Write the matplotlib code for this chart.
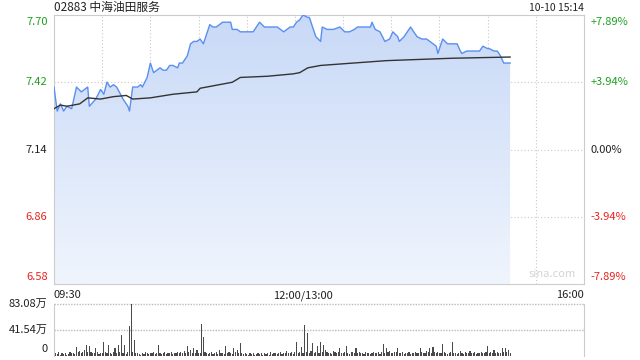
import matplotlib
matplotlib.use("Agg")
import matplotlib.pyplot as plt
import numpy as np
from matplotlib.colors import LinearSegmentedColormap

plt.rcParams['font.family'] = ['Noto Sans CJK SC', 'DejaVu Sans']

# minutes after 09:30 (lunch break removed, 150 = 12:00/13:00)
price_t = [0, 2, 4, 6, 8, 11, 14, 17, 21, 22, 26, 29, 31, 33, 35, 37, 39, 43, 46, 47,
           49, 52, 54, 55, 58, 60, 62, 64, 66, 68, 70, 72, 74, 77, 78, 80, 83, 85, 87, 89,
           91, 93, 95, 97, 99, 101, 105, 108, 110, 111, 114, 116, 118, 120, 124, 126, 128, 131, 133, 136,
           139, 143, 147, 149, 151, 153, 155, 158, 159, 161, 163, 166, 167, 170, 174, 178, 181, 184, 187, 189,
           193, 197, 198, 200, 203, 206, 209, 211, 214, 215, 218, 220, 222, 224, 226, 229, 232, 236, 238, 239,
           240, 242, 245, 248, 251, 253, 254, 257, 259, 263, 265, 267, 270, 271, 274, 276, 278, 280, 281, 282, 284]
price = [7.40, 7.30, 7.33, 7.30, 7.32, 7.31, 7.40, 7.38, 7.40, 7.32, 7.35, 7.39, 7.37, 7.42, 7.40, 7.41, 7.40, 7.35, 7.32, 7.30,
         7.40, 7.40, 7.41, 7.40, 7.44, 7.50, 7.46, 7.47, 7.48, 7.47, 7.47, 7.49, 7.49, 7.48, 7.50, 7.50, 7.53, 7.58, 7.59, 7.59,
         7.60, 7.58, 7.62, 7.66, 7.65, 7.65, 7.67, 7.67, 7.67, 7.64, 7.64, 7.63, 7.63, 7.63, 7.63, 7.65, 7.67, 7.65, 7.65, 7.65,
         7.65, 7.63, 7.65, 7.65, 7.67, 7.68, 7.70, 7.69, 7.69, 7.65, 7.61, 7.59, 7.65, 7.64, 7.64, 7.65, 7.63, 7.63, 7.64, 7.65,
         7.65, 7.65, 7.67, 7.64, 7.63, 7.59, 7.60, 7.63, 7.61, 7.59, 7.61, 7.63, 7.65, 7.63, 7.61, 7.60, 7.60, 7.58, 7.57, 7.54,
         7.56, 7.60, 7.58, 7.58, 7.58, 7.55, 7.54, 7.55, 7.55, 7.55, 7.55, 7.57, 7.56, 7.56, 7.55, 7.55, 7.53, 7.50, 7.50, 7.50, 7.50]

avg_t = [0, 4, 8, 16, 21, 29, 37, 45, 49, 60, 74, 89, 91, 111, 116, 133, 149, 153, 158, 166, 207, 248, 284]
avg_price = [7.31, 7.325, 7.32, 7.33, 7.355, 7.35, 7.36, 7.365, 7.35, 7.355, 7.37, 7.38, 7.395,
             7.42, 7.44, 7.445, 7.455, 7.46, 7.48, 7.49, 7.51, 7.52, 7.525]

# volume per minute, in 万
volume = [21, 4, 3, 6, 2, 5, 3, 4, 2, 3, 6, 4, 5, 3, 14, 6, 8, 5, 7, 10,
          18, 6, 16, 7, 4, 5, 13, 6, 3, 5, 4, 23, 6, 4, 18, 5, 3, 7, 12, 4,
          18, 6, 34, 5, 18, 3, 7, 48, 83, 6, 25, 5, 4, 3, 2, 5, 3, 6, 4, 3,
          5, 4, 6, 3, 4, 18, 5, 3, 4, 6, 3, 5, 4, 6, 3, 4, 5, 7, 4, 6,
          5, 8, 4, 16, 6, 10, 5, 13, 4, 9, 5, 4, 51, 31, 6, 4, 3, 5, 7, 3,
          4, 6, 3, 10, 5, 4, 3, 16, 5, 7, 4, 3, 12, 6, 9, 5, 20, 4, 3, 5,
          3, 2, 4, 3, 5, 2, 3, 4, 3, 5, 2, 4, 3, 4, 2, 6, 3, 5, 4, 3,
          4, 6, 3, 5, 4, 8, 5, 4, 7, 3, 6, 23, 5, 7, 14, 4, 50, 6, 37, 5,
          8, 20, 4, 6, 16, 5, 23, 6, 18, 10, 7, 5, 4, 3, 8, 6, 5, 7, 12, 5,
          4, 6, 16, 5, 3, 7, 6, 4, 13, 5, 6, 4, 5, 3, 6, 4, 5, 3, 4, 6,
          5, 4, 7, 3, 6, 19, 5, 13, 6, 8, 4, 5, 6, 7, 12, 5, 4, 6, 3, 5,
          4, 6, 3, 5, 4, 7, 5, 4, 12, 6, 5, 4, 8, 6, 13, 5, 14, 7, 4, 6,
          5, 4, 19, 6, 5, 3, 4, 6, 23, 5, 4, 3, 5, 8, 4, 3, 6, 5, 4, 8,
          5, 4, 6, 3, 5, 4, 6, 5, 4, 7, 16, 5, 6, 4, 10, 5, 6, 4, 5, 12,
          6, 12, 7, 9, 5]

prev_close = 7.14
price_ticks = [7.70, 7.42, 7.14, 6.86, 6.58]
pct_labels = ['+7.89%', '+3.94%', '0.00%', '-3.94%', '-7.89%']
time_labels = ['09:30', '12:00/13:00', '16:00']
vol_ticks = [0, 41.54, 83.08]
vol_labels = ['0', '41.54万', '83.08万']

green = '#1ea01e'
red = '#e8231f'
border = '#cccccc'
gridc = '#c8c8c8'

fig = plt.figure(figsize=(6.4, 3.6), dpi=100)
ax = fig.add_axes([54/640, 1-284/360, 530/640, 269/360])
axv = fig.add_axes([54/640, 4/360, 530/640, 52/360])

# price chart
ax.set_xlim(0, 330)
ax.set_ylim(6.58, 7.70)
for s in ax.spines.values():
    s.set_color(border)
for t in range(30, 330, 30):
    ax.axvline(t, color=gridc, lw=0.8, ls=(0, (1, 2)), zorder=0)
for p in price_ticks[1:-1]:
    ax.axhline(p, color=gridc, lw=0.8, ls=(0, (1, 2)), zorder=0)

poly = ax.fill_between(price_t, price, 6.58, color='none', lw=0)
cmap = LinearSegmentedColormap.from_list('g', ['#f0f5fd', '#c8d9f7'])
grad = np.linspace(0, 1, 256).reshape(-1, 1)
img = ax.imshow(grad, cmap=cmap, aspect='auto', origin='lower',
                extent=[0, 330, 6.58, 7.70], zorder=1)
img.set_clip_path(poly.get_paths()[0], transform=ax.transData)
ax.plot(price_t, price, color='#5a8ff0', lw=1.0, zorder=3)
ax.plot(avg_t, avg_price, color='#333333', lw=1.0, zorder=3)

ax.set_xticks([])
ax.set_yticks([])
for i, p in enumerate(price_ticks):
    c = green if p > prev_close else (red if p < prev_close else '#222222')
    va = 'top' if i == 0 else ('bottom' if i == len(price_ticks)-1 else 'center')
    off = -0.01 if i == 0 else (0.01 if i == len(price_ticks)-1 else 0)
    ax.text(-4, p + off, '%.2f' % p, color=c, fontsize=8, ha='right', va=va, clip_on=False)
    ax.text(334, p + off, pct_labels[i], color=c, fontsize=8, ha='left', va=va, clip_on=False)

fig.text(54/640, 1-7/360, '02883 中海油田服务', fontsize=8.5, ha='left', va='center', color='#222222')
fig.text(584/640, 1-8/360, '10-10 15:14', fontsize=7.5, ha='right', va='center', color='#222222')
ax.text(325, 6.60, 'sina.com', fontsize=8, ha='right', va='bottom', color='#d4d4d4')

ax.text(0, 6.555, time_labels[0], fontsize=8, ha='left', va='top', color='#222222', clip_on=False)
ax.text(155, 6.555, time_labels[1], fontsize=8, ha='center', va='top', color='#222222', clip_on=False)
ax.text(330, 6.555, time_labels[2], fontsize=8, ha='right', va='top', color='#222222', clip_on=False)

# volume chart
vt = np.arange(len(volume))
axv.bar(vt, volume, width=0.7, color='#4a4a4a', zorder=2)
axv.set_xlim(0, 330)
axv.set_ylim(0, 83.08)
axv.spines['top'].set_visible(False)
axv.spines['bottom'].set_visible(False)
axv.spines['left'].set_color(border)
axv.spines['right'].set_color(border)
for v in vol_ticks[1:]:
    axv.axhline(v, color='#bbbbbb', lw=1.0, ls=(0, (1, 1)), zorder=0, clip_on=False)
axv.set_xticks([])
axv.set_yticks([])
for v, lab in zip(vol_ticks, vol_labels):
    va = 'bottom' if v == 0 else 'center'
    axv.text(-4, v if v else 3, lab, fontsize=8, ha='right', va=va, color='#222222', clip_on=False)

fig.savefig('out.png', dpi=100)
